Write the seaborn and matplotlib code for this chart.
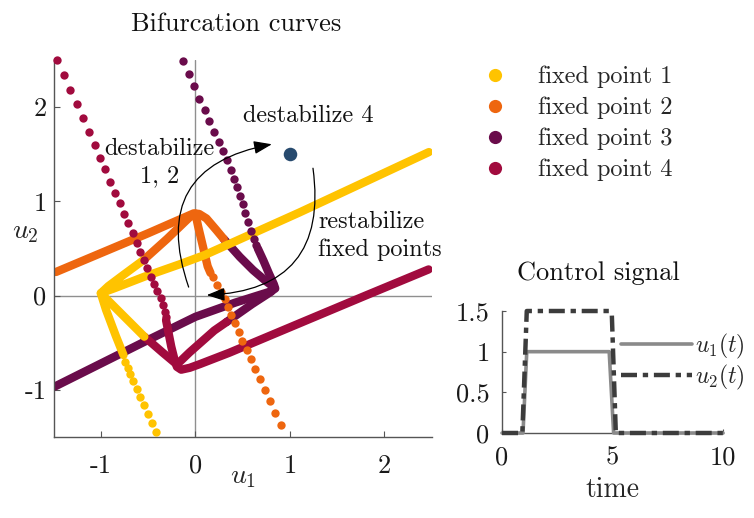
import numpy as np
import pandas as pd
import matplotlib
matplotlib.use("Agg")
import matplotlib.pyplot as plt
from matplotlib.lines import Line2D
from matplotlib.patches import FancyArrowPatch
import seaborn as sns

# ---------------- data ----------------
fp_labels = ["fixed point 1", "fixed point 2", "fixed point 3", "fixed point 4"]
fp_colors = ["#FFC300", "#EE660F", "#6A0C4B", "#A10B3E"]

# fixed point 1: gentle branch + corner + edge towards fixed point 2
fp1_a_u1 = [2.47, 1.10, 0.50, 0.10, -0.17, -0.54, -0.85, -1.0, -0.92, -0.76, -0.55]
fp1_a_u2 = [1.52, 0.88, 0.61, 0.43, 0.33, 0.20, 0.08, 0.025, 0.10, 0.22, 0.375]
# fixed point 1: edge towards fixed point 4 + corner + steep branch
fp1_b_u1 = [-0.54, -0.77, -1.0, -0.945, -0.84, -0.76]
fp1_b_u2 = [-0.435, -0.205, 0.025, -0.15, -0.43, -0.63]
fp1_dots_u1 = [-0.739, -0.715, -0.689, -0.660, -0.621, -0.584, -0.547, -0.506, -0.463, -0.414]
fp1_dots_u2 = [-0.70, -0.765, -0.83, -0.90, -0.985, -1.07, -1.16, -1.25, -1.345, -1.445]

# fixed point 2
fp2_a_u1 = [-1.474, -0.50, -0.10, -0.02, 0.04, 0.117, 0.223, 0.30]
fp2_a_u2 = [0.25, 0.66, 0.835, 0.87, 0.865, 0.817, 0.693, 0.60]
fp2_b_u1 = [-0.55, -0.30, -0.04, 0.0, 0.03, 0.08, 0.13, 0.16]
fp2_b_u2 = [0.375, 0.60, 0.85, 0.87, 0.73, 0.52, 0.31, 0.24]
fp2_dots_u1 = [0.19, 0.228, 0.27, 0.311, 0.346, 0.382, 0.417, 0.459, 0.498, 0.541,
               0.586, 0.632, 0.682, 0.735, 0.788, 0.844, 0.901]
fp2_dots_u2 = [0.195, 0.11, 0.035, -0.04, -0.118, -0.206, -0.288, -0.383, -0.478, -0.577,
               -0.672, -0.778, -0.887, -1.0, -1.116, -1.24, -1.37]

# fixed point 3
fp3_a_u1 = [0.66, 0.72, 0.78, 0.83, 0.845, 0.80, 0.42, 0.0, -0.5, -1.49]
fp3_a_u2 = [0.50, 0.37, 0.23, 0.12, 0.075, 0.045, -0.075, -0.225, -0.47, -0.965]
fp3_b_u1 = [0.30, 0.47, 0.61, 0.75, 0.835, 0.80, 0.60, 0.33]
fp3_b_u2 = [0.60, 0.41, 0.27, 0.15, 0.085, 0.04, -0.09, -0.28]
fp3_dots_u1 = [-0.131, -0.071, -0.015, 0.038, 0.099, 0.144, 0.197, 0.247, 0.297, 0.339,
               0.374, 0.409, 0.445, 0.475, 0.50, 0.525, 0.555, 0.585, 0.615, 0.64]
fp3_dots_u2 = [2.481, 2.344, 2.217, 2.087, 1.963, 1.847, 1.733, 1.628, 1.529, 1.434,
               1.335, 1.24, 1.15, 1.06, 0.97, 0.875, 0.775, 0.68, 0.595, 0.54]

# fixed point 4
fp4_a_u1 = [-0.31, -0.255, -0.22, -0.195, -0.15, -0.06, 0.05, 0.36, 1.10, 1.80, 2.467]
fp4_a_u2 = [-0.26, -0.54, -0.68, -0.755, -0.785, -0.765, -0.725, -0.605, -0.294, 0.0, 0.277]
fp4_b_u1 = [-0.54, -0.35, -0.195, -0.06, 0.20, 0.33]
fp4_b_u2 = [-0.435, -0.60, -0.73, -0.60, -0.37, -0.28]
fp4_dots_u1 = [-1.463, -1.393, -1.322, -1.256, -1.188, -1.129, -1.065, -1.004, -0.952, -0.898,
               -0.848, -0.80, -0.755, -0.709, -0.664, -0.622, -0.581, -0.545, -0.509, -0.474,
               -0.439, -0.403, -0.368, -0.344, -0.326, -0.313]
fp4_dots_u2 = [2.497, 2.339, 2.18, 2.026, 1.878, 1.738, 1.596, 1.462, 1.339, 1.208,
               1.088, 0.976, 0.868, 0.764, 0.658, 0.561, 0.463, 0.376, 0.288, 0.199,
               0.122, 0.051, -0.03, -0.10, -0.17, -0.225]

# current control input
target_u1 = [1.0]
target_u2 = [1.5]

# control signal time series
t_u1 = [0, 0.95, 1.12, 4.85, 5.05, 10]
sig_u1 = [0, 0, 1, 1, 0, 0]
t_u2 = [0, 0.92, 1.12, 4.85, 4.97, 5.15, 10]
sig_u2 = [0, 0, 1.5, 1.5, 1.45, 0, 0]

main_ticks = [-1, 0, 1, 2]
main_ticklabels = ["-1", "0", "1", "2"]
time_ticks = [0, 5, 10]
time_ticklabels = ["0", "5", "10"]
sig_ticks = [0, 0.5, 1, 1.5]
sig_ticklabels = ["0", "0.5", "1", "1.5"]

# ---------------- style ----------------
sns.set_theme(style="white")
plt.rcParams["font.family"] = ["cmr10", "DejaVu Serif"]
plt.rcParams["mathtext.fontset"] = "cm"
plt.rcParams["axes.unicode_minus"] = False
plt.rcParams["axes.formatter.use_mathtext"] = True

fig = plt.figure(figsize=(7.54, 5.18), dpi=100)
ax = fig.add_axes([0.0710, 0.156, 0.5016, 0.729])
ax2 = fig.add_axes([0.6658, 0.1641, 0.2931, 0.2355])

spine_col = "#555555"
band_lw = 6.0
dot_s = 36

# ---------------- bifurcation curves ----------------
ax.axhline(0, color="#8f8f8f", lw=1.0, zorder=0)
ax.axvline(0, color="#8f8f8f", lw=1.0, zorder=0)

bands = [
    (fp3_a_u1, fp3_a_u2, 2), (fp3_b_u1, fp3_b_u2, 2),
    (fp4_a_u1, fp4_a_u2, 3), (fp4_b_u1, fp4_b_u2, 3),
    (fp2_a_u1, fp2_a_u2, 1), (fp2_b_u1, fp2_b_u2, 1),
    (fp1_a_u1, fp1_a_u2, 0), (fp1_b_u1, fp1_b_u2, 0),
]
for xs, ys, k in bands:
    sns.lineplot(x=xs, y=ys, ax=ax, sort=False, estimator=None, color=fp_colors[k],
                 linewidth=band_lw, solid_capstyle="round", solid_joinstyle="round",
                 zorder=2)

dots = [
    (fp3_dots_u1, fp3_dots_u2, 2), (fp4_dots_u1, fp4_dots_u2, 3),
    (fp2_dots_u1, fp2_dots_u2, 1), (fp1_dots_u1, fp1_dots_u2, 0),
]
for xs, ys, k in dots:
    sns.scatterplot(x=xs, y=ys, ax=ax, color=fp_colors[k], s=dot_s, linewidth=0,
                    zorder=3, clip_on=False)

sns.scatterplot(x=target_u1, y=target_u2, ax=ax, color="#274A6E", s=95, linewidth=0,
                zorder=4)

ax.set_xlim(-1.5, 2.5)
ax.set_ylim(-1.5, 2.5)
ax.set_xticks(main_ticks)
ax.set_xticklabels(main_ticklabels)
ax.set_yticks(main_ticks)
ax.set_yticklabels(main_ticklabels)
for s in ["top", "right"]:
    ax.spines[s].set_visible(False)
for s in ["left", "bottom"]:
    ax.spines[s].set_color(spine_col)
    ax.spines[s].set_linewidth(1.0)
ax.tick_params(axis="both", direction="in", length=4, width=0.8, color=spine_col,
               labelsize=19, labelcolor="#1a1a1a", left=True, bottom=True)
ax.tick_params(axis="x", pad=12)
ax.tick_params(axis="y", pad=5)

ax.set_xlabel("$u_1$", fontsize=20)
ax.xaxis.label.set_va("center")
ax.xaxis.set_label_coords(0.5, -0.105)
ax.set_ylabel("$u_2$", fontsize=20, rotation=0, va="center", ha="center")
ax.yaxis.set_label_coords(-0.075, 0.543)

fig.text(236.5 / 754, 1 - 31 / 518, "Bifurcation curves", fontsize=19,
         ha="center", va="baseline", color="#111111")

# annotations (va="baseline" anchors the last line of a multi-line text)
ann_fs = 17.5
ax.text(0.505, 1.84, "destabilize 4", fontsize=ann_fs, ha="left", va="baseline",
        color="#111111")
ax.text(-0.38, 1.204, "destabilize\n1, 2", fontsize=ann_fs, ha="center",
        va="baseline", multialignment="center", linespacing=1.3, color="#111111")
ax.text(1.30, 0.418, "restabilize\nfixed points", fontsize=ann_fs, ha="left",
        va="baseline", linespacing=1.3, color="#111111")

arrow_kw = dict(arrowstyle="-|>,head_length=0.55,head_width=0.2", mutation_scale=20,
                color="black", lw=0.9, shrinkA=0, shrinkB=0, zorder=5)
ax.add_patch(FancyArrowPatch((-0.071, 0.09), (0.809, 1.603),
                             connectionstyle="arc3,rad=-0.58", **arrow_kw))
ax.add_patch(FancyArrowPatch((1.244, 1.349), (0.12, 0.005),
                             connectionstyle="arc3,rad=-0.55", **arrow_kw))

# legend for the fixed points
fp_handles = [Line2D([], [], marker="o", linestyle="", markersize=9.5,
                     markerfacecolor=c, markeredgewidth=0) for c in fp_colors]
fig.legend(fp_handles, fp_labels, loc="upper left",
           bbox_to_anchor=(483 / 754, 1 - 66 / 518), frameon=False, fontsize=17.5,
           handlelength=1.0, handletextpad=1.28, labelspacing=0.345,
           borderpad=0, borderaxespad=0)

# ---------------- control signal ----------------
sns.lineplot(x=t_u1, y=sig_u1, ax=ax2, sort=False, estimator=None, color="#8a8a8a",
             linewidth=2.6, label="$u_1(t)$", clip_on=False, zorder=3)
sns.lineplot(x=t_u2, y=sig_u2, ax=ax2, sort=False, estimator=None, color="#3c3c3c",
             linewidth=3.2, linestyle=(0, (3.6, 1.3, 1.2, 1.3)), label="$u_2(t)$",
             clip_on=False, zorder=4)
ax2.set_xlim(0, 10)
ax2.set_ylim(0, 1.5)
ax2.set_xticks(time_ticks)
ax2.set_xticklabels(time_ticklabels)
ax2.set_yticks(sig_ticks)
ax2.set_yticklabels(sig_ticklabels)
for s in ["top", "right"]:
    ax2.spines[s].set_visible(False)
for s in ["left", "bottom"]:
    ax2.spines[s].set_color(spine_col)
    ax2.spines[s].set_linewidth(1.0)
ax2.tick_params(axis="both", direction="in", length=3, width=0.8, color=spine_col,
                labelsize=19, labelcolor="#1a1a1a", left=True, bottom=True)
ax2.tick_params(axis="x", pad=9)
ax2.tick_params(axis="y", pad=9)
ax2.set_xlabel("time", fontsize=20, va="baseline")
ax2.xaxis.set_label_coords(0.5, -0.525)
fig.text(598 / 754, 1 - 273 / 518, "Control signal", fontsize=19, ha="center",
         va="center", color="#111111")
ax2.legend(loc="upper left", bbox_to_anchor=(621 / 754, 1 - 332 / 518),
           bbox_transform=fig.transFigure, frameon=False, fontsize=17,
           handlelength=3.0, handletextpad=0.12, labelspacing=0.08,
           borderpad=0, borderaxespad=0)

fig.savefig("out.png", dpi=100)
